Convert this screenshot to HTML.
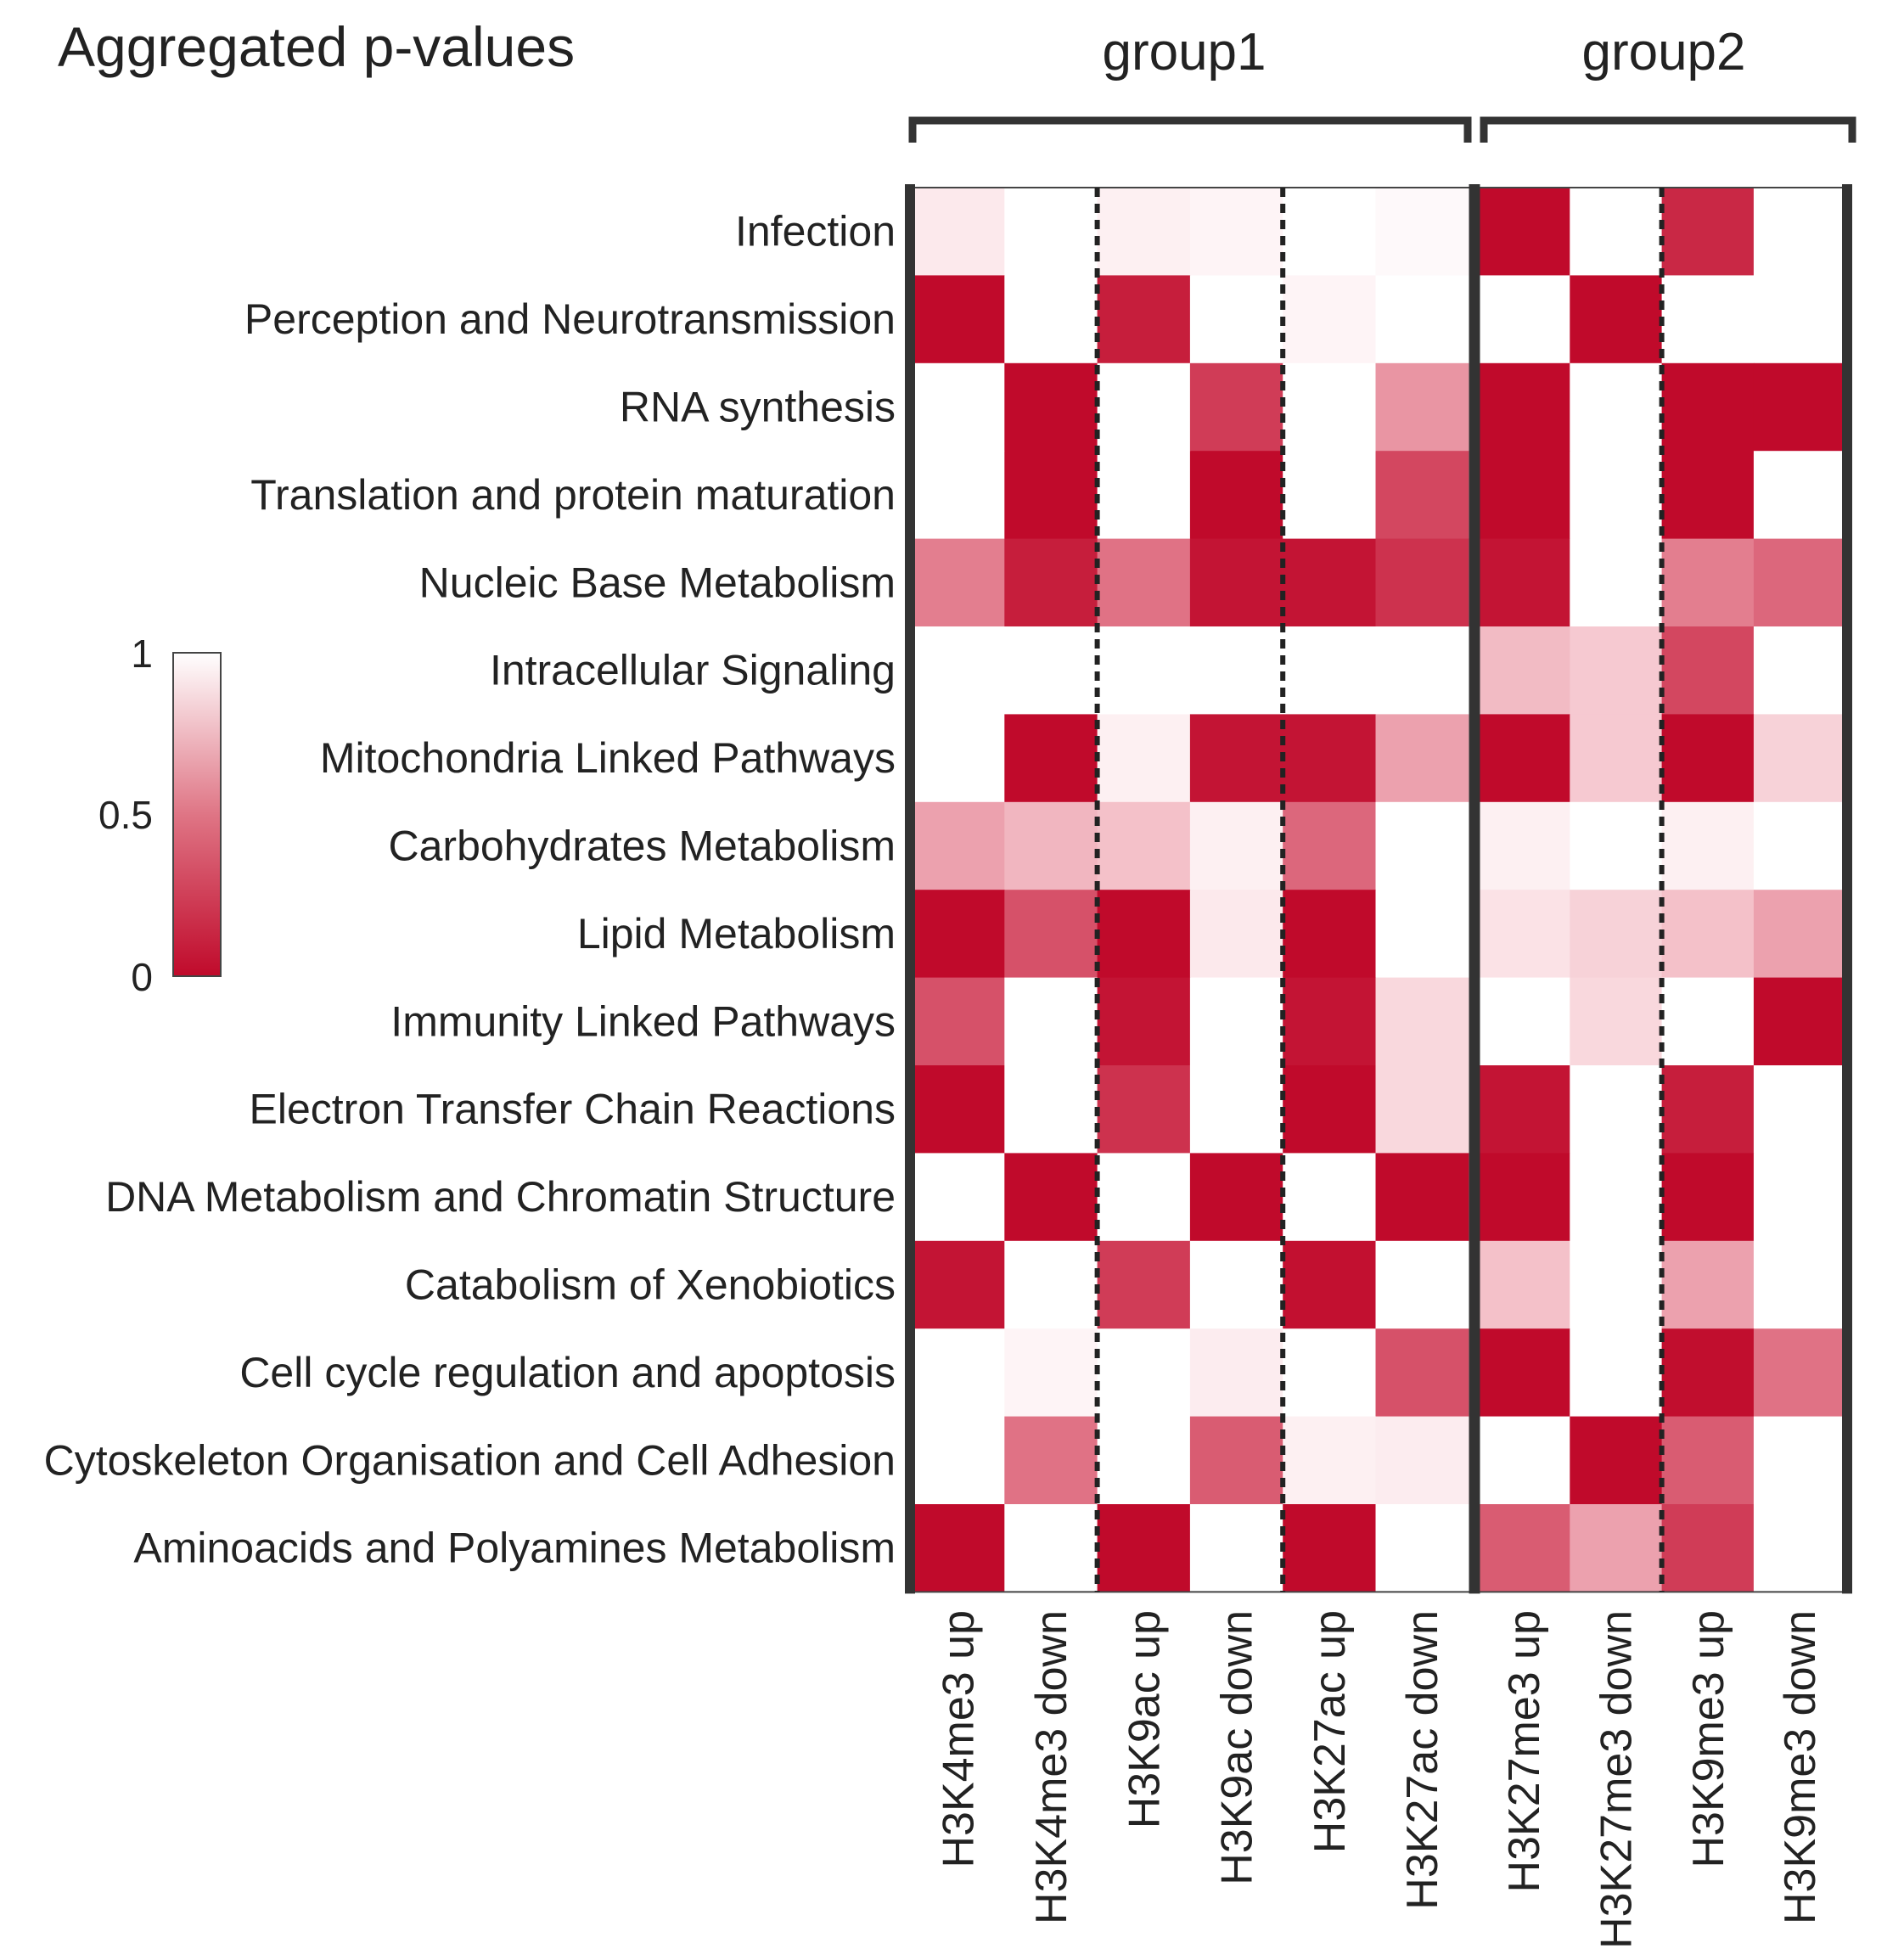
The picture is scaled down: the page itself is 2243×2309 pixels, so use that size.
<!DOCTYPE html>
<html><head><meta charset="utf-8">
<style>
html,body{margin:0;padding:0;background:#fff;}
svg{display:block;}
text{font-family:"Liberation Sans",Arial,sans-serif;fill:#222;}
</style></head>
<body>
<svg id="s" width="2243" height="2309" viewBox="0 0 2243 2309" xmlns="http://www.w3.org/2000/svg">
<defs>
<linearGradient id="cb" x1="0" y1="1" x2="0" y2="0">
<stop offset="0" stop-color="#c00a2b"/>
<stop offset="0.5" stop-color="#df7585"/>
<stop offset="1" stop-color="#ffffff"/>
</linearGradient>
</defs>
<text x="68" y="78" font-size="66">Aggregated p-values</text>
<text x="1395" y="82" font-size="62" text-anchor="middle">group1</text>
<text x="1960" y="82" font-size="62" text-anchor="middle">group2</text>
<path d="M1075,168 V142 H1729 V168" fill="none" stroke="#333" stroke-width="9"/>
<path d="M1748,168 V142 H2182 V168" fill="none" stroke="#333" stroke-width="9"/>
<rect x="204" y="769" width="56" height="381" fill="url(#cb)" stroke="#444" stroke-width="2"/>
<text x="180" y="786" font-size="46" text-anchor="end">1</text>
<text x="180" y="976" font-size="46" text-anchor="end">0.5</text>
<text x="180" y="1167" font-size="46" text-anchor="end">0</text>
<g id="cells"></g>
<g id="labels"></g>
</svg>
<script>
(function(){
var rows=["Infection","Perception and Neurotransmission","RNA synthesis","Translation and protein maturation","Nucleic Base Metabolism","Intracellular Signaling","Mitochondria Linked Pathways","Carbohydrates Metabolism","Lipid Metabolism","Immunity Linked Pathways","Electron Transfer Chain Reactions","DNA Metabolism and Chromatin Structure","Catabolism of Xenobiotics","Cell cycle regulation and apoptosis","Cytoskeleton Organisation and Cell Adhesion","Aminoacids and Polyamines Metabolism"];
var cols=["H3K4me3 up","H3K4me3 down","H3K9ac up","H3K9ac down","H3K27ac up","H3K27ac down","H3K27me3 up","H3K27me3 down","H3K9me3 up","H3K9me3 down"];
var d=[
[.05,0,.03,.02,0,.01,1,0,.85,0],
[1,0,.9,0,.02,0,0,1,0,0],
[0,1,0,.75,0,.35,1,0,1,1],
[0,1,0,1,0,.7,1,0,1,0],
[.45,.9,.5,.95,.95,.8,.95,0,.45,.55],
[0,0,0,0,0,0,.2,.15,.7,0],
[0,1,.03,.95,.95,.3,1,.15,1,.12],
[.3,.22,.18,.03,.55,0,.03,0,.03,0],
[1,.65,1,.05,1,0,.07,.12,.18,.3],
[.65,0,.95,0,.95,.1,0,.1,0,1],
[1,0,.8,0,1,.1,.95,0,.9,0],
[0,1,0,1,0,1,1,0,1,0],
[.95,0,.75,0,.97,0,.18,0,.3,0],
[0,.02,0,.04,0,.65,1,0,.98,.5],
[0,.5,0,.6,.03,.04,0,1,.6,0],
[1,0,1,0,1,0,.6,.3,.75,0]];
function col(v){var p=Math.pow(v,0.8);var r=Math.round(255-63*v),g=Math.round(255-245*p),b=Math.round(255-212*p);
 return "rgb("+r+","+g+","+b+")";}
var T=221,rh=103.4;
function cx(j){return j<6?1074+j*109.3:1741+(j-6)*108.3;}
function cw(j){return j<6?109.3:108.3;}
var h="";
for(var i=0;i<16;i++)for(var j=0;j<10;j++){
 h+='<rect x="'+cx(j).toFixed(1)+'" y="'+(T+i*rh).toFixed(1)+'" width="'+(cw(j)+0.6).toFixed(1)+'" height="'+(rh+0.6).toFixed(1)+'" fill="'+col(d[i][j])+'"/>';}
var bot=T+16*rh;
h+='<line x1="1068" y1="'+T+'" x2="2180" y2="'+T+'" stroke="#444" stroke-width="2"/>';
h+='<line x1="1068" y1="'+bot+'" x2="2180" y2="'+bot+'" stroke="#444" stroke-width="2"/>';
h+='<line x1="1072" y1="'+(T-4)+'" x2="1072" y2="'+(bot+2)+'" stroke="#333" stroke-width="12"/>';
h+='<line x1="1737" y1="'+(T-4)+'" x2="1737" y2="'+(bot+2)+'" stroke="#333" stroke-width="13"/>';
h+='<line x1="2176" y1="'+(T-4)+'" x2="2176" y2="'+(bot+2)+'" stroke="#333" stroke-width="12"/>';
[1292.6,1511.2,1957.6].forEach(function(x){h+='<line x1="'+x+'" y1="'+T+'" x2="'+x+'" y2="'+bot+'" stroke="#222" stroke-width="6" stroke-dasharray="11,8"/>';});
document.getElementById("cells").innerHTML=h;
var l="";
for(var i=0;i<16;i++){l+='<text x="1055" y="'+(T+i*rh+rh/2+17).toFixed(1)+'" font-size="50" text-anchor="end">'+rows[i]+'</text>';}
for(var j=0;j<10;j++){var x=cx(j)+cw(j)/2+18;
 l+='<text transform="translate('+x.toFixed(1)+',1897) rotate(-90)" font-size="52" text-anchor="end">'+cols[j]+'</text>';}
document.getElementById("labels").innerHTML=l;
})();
</script>
</body></html>
